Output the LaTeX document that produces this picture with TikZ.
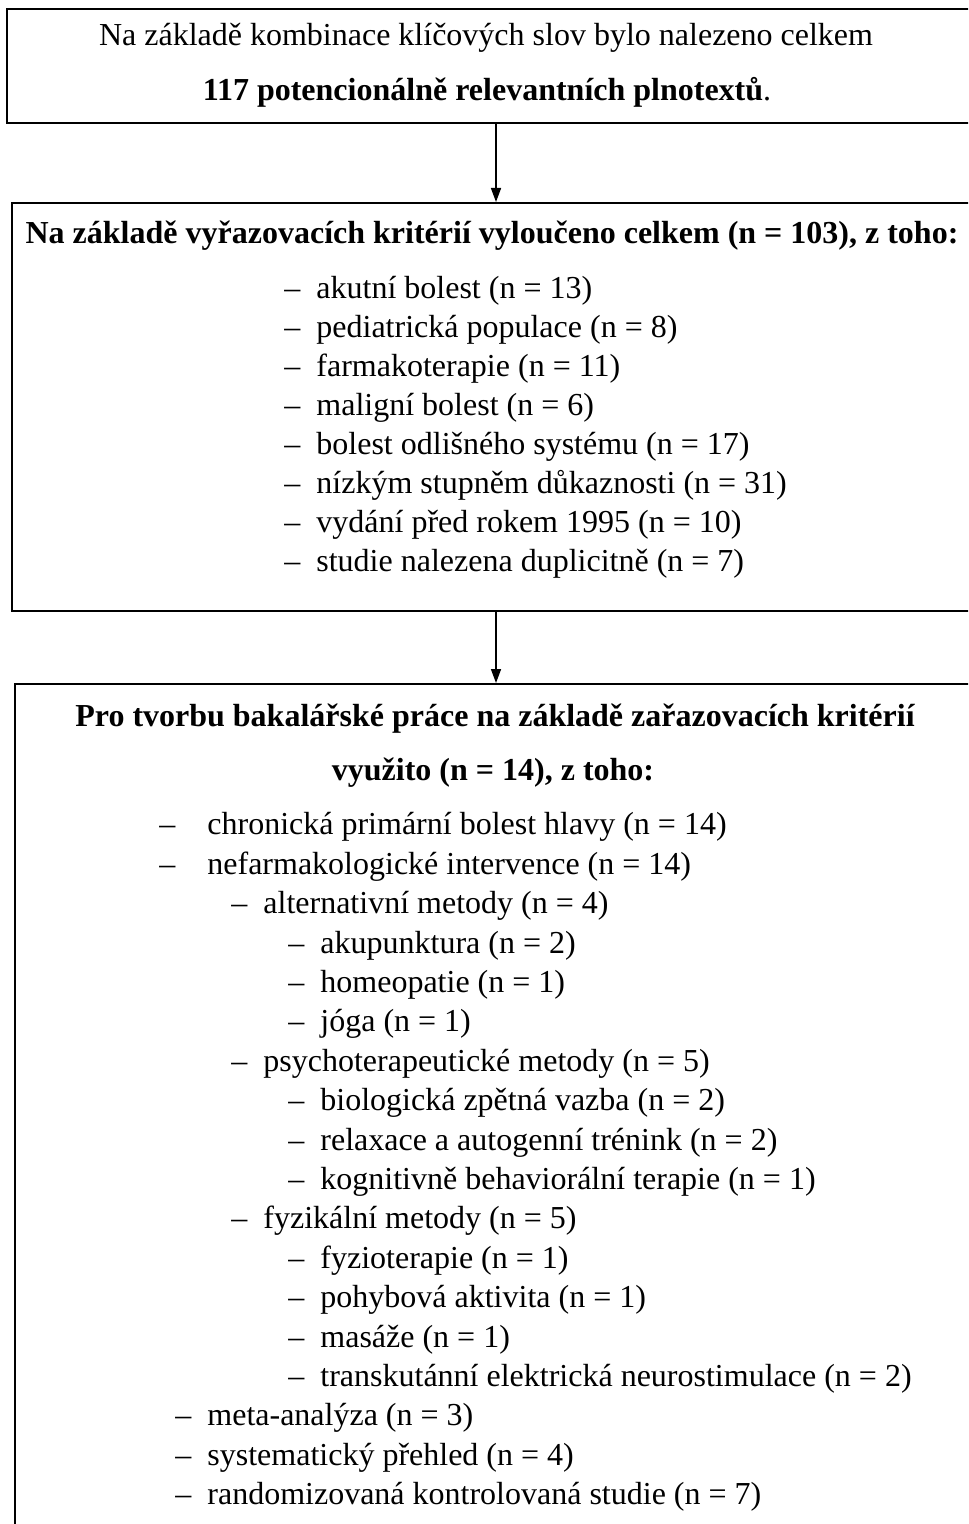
\documentclass[tikz,border=0pt]{standalone}
\usepackage{fontspec}
\setmainfont{Liberation Serif}
\usetikzlibrary{arrows.meta}

\tikzset{
  box/.style={draw=black, line width=1pt, inner sep=0pt},
  item/.style={anchor=west, inner sep=0pt, text height=11pt, text depth=3.5pt,
    font=\fontsize{16}{19}\selectfont},
  line/.style={inner sep=0pt, font=\fontsize{16}{19}\selectfont},
  head/.style={inner sep=0pt, font=\fontsize{16}{19}\selectfont\bfseries},
  arr/.style={line width=0.75pt, -{Triangle[width=5pt,length=7pt]}}
}
\newcommand{\dsh}[1]{\makebox[#1][l]{–}}

\begin{document}
\begin{tikzpicture}[x=0.5pt, y=-0.5pt]
        \useasboundingbox (0,0) rectangle (968,1524);
        \clip (0,0) rectangle (968,1524);

        % boxes
        \node[box, minimum width=489pt, minimum height=57pt] (box1) at (496,66) {};
        \node[box, minimum width=484pt, minimum height=204pt] (box2) at (496,407) {};
        \node[box, minimum width=481pt, minimum height=438pt] (box3) at (496,1122) {};

        \draw[arr] (box1.south) -- (box2.north);
        \draw[arr] (box2.south) -- (box3.north);

        % box 1
        \node[line] (t1a) at (486,38) {Na základě kombinace klíčových slov bylo nalezeno celkem};
        \node[line] (t1b) at (487,92) {\textbf{117 potencionálně relevantních plnotextů}.};

        % box 2
        \node[head] (t2) at (492,236) {Na základě vyřazovacích kritérií vyloučeno celkem (n = 103), z toho:};
        \node[item] (a1) at (284,291) {\dsh{16pt}akutní bolest (n = 13)};
        \node[item] (a2) at (284,330) {\dsh{16pt}pediatrická populace (n = 8)};
        \node[item] (a3) at (284,369) {\dsh{16pt}farmakoterapie (n = 11)};
        \node[item] (a4) at (284,408) {\dsh{16pt}maligní bolest (n = 6)};
        \node[item] (a5) at (284,447) {\dsh{16pt}bolest odlišného systému (n = 17)};
        \node[item] (a6) at (284,486) {\dsh{16pt}nízkým stupněm důkaznosti (n = 31)};
        \node[item] (a7) at (284,525) {\dsh{16pt}vydání před rokem 1995 (n = 10)};
        \node[item] (a8) at (284,564) {\dsh{16pt}studie nalezena duplicitně (n = 7)};

        % box 3
        \node[head] (t3a) at (495,719) {Pro tvorbu bakalářské práce na základě zařazovacích kritérií};
        \node[head] (t3b) at (493,773) {využito (n = 14), z toho:};
        \node[item] (b1) at (159,827) {\dsh{24pt}chronická primární bolest hlavy (n = 14)};
        \node[item] (b2) at (159,867) {\dsh{24pt}nefarmakologické intervence (n = 14)};
        \node[item] (b3) at (231,906) {\dsh{16pt}alternativní metody (n = 4)};
        \node[item] (b4) at (288,946) {\dsh{16pt}akupunktura (n = 2)};
        \node[item] (b5) at (288,985) {\dsh{16pt}homeopatie (n = 1)};
        \node[item] (b6) at (288,1024) {\dsh{16pt}jóga (n = 1)};
        \node[item] (b7) at (231,1064) {\dsh{16pt}psychoterapeutické metody (n = 5)};
        \node[item] (b8) at (288,1103) {\dsh{16pt}biologická zpětná vazba (n = 2)};
        \node[item] (b9) at (288,1143) {\dsh{16pt}relaxace a autogenní trénink (n = 2)};
        \node[item] (b10) at (288,1182) {\dsh{16pt}kognitivně behaviorální terapie (n = 1)};
        \node[item] (b11) at (231,1221) {\dsh{16pt}fyzikální metody (n = 5)};
        \node[item] (b12) at (288,1261) {\dsh{16pt}fyzioterapie (n = 1)};
        \node[item] (b13) at (288,1300) {\dsh{16pt}pohybová aktivita (n = 1)};
        \node[item] (b14) at (288,1340) {\dsh{16pt}masáže (n = 1)};
        \node[item] (b15) at (288,1379) {\dsh{16pt}transkutánní elektrická neurostimulace (n = 2)};
        \node[item] (b16) at (175,1418) {\dsh{16pt}meta-analýza (n = 3)};
        \node[item] (b17) at (175,1458) {\dsh{16pt}systematický přehled (n = 4)};
        \node[item] (b18) at (175,1497) {\dsh{16pt}randomizovaná kontrolovaná studie (n = 7)};
\end{tikzpicture}
\end{document}
